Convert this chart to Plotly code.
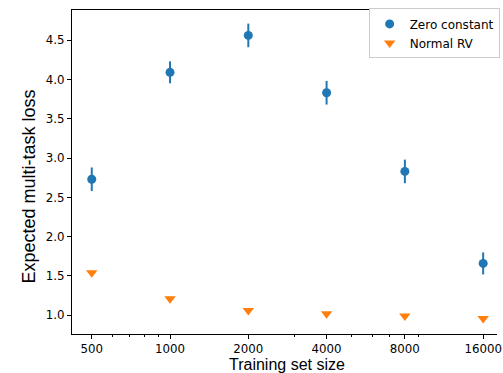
import plotly.graph_objects as go

# ---- data ----
sizes = [500, 1000, 2000, 4000, 8000, 16000]
tick_labels = ["500", "1000", "2000", "4000", "8000", "16000"]
zero_mean = [2.73, 4.09, 4.56, 3.83, 2.83, 1.66]
zero_err = [0.15, 0.14, 0.15, 0.15, 0.15, 0.14]
normal_mean = [1.54, 1.21, 1.06, 1.02, 0.99, 0.96]
y_ticks = [1.0, 1.5, 2.0, 2.5, 3.0, 3.5, 4.0, 4.5]
minor_x = [600, 700, 800, 900, 3000, 5000, 6000, 7000, 9000]

BLUE = "#1f77b4"
ORANGE = "#ff7f0e"
TICK_FONT = dict(family="DejaVu Sans", size=11.8, color="#000000")

fig = go.Figure()
fig.add_trace(go.Scatter(
    x=sizes, y=zero_mean, mode="markers", name="Zero constant",
    marker=dict(symbol="circle", size=9, color=BLUE),
    error_y=dict(type="data", array=zero_err, visible=True, color=BLUE,
                 thickness=2, width=0),
))
fig.add_trace(go.Scatter(
    x=sizes, y=normal_mean, mode="markers", name="Normal RV",
    marker=dict(symbol="triangle-down", size=10, color=ORANGE),
))

fig.update_layout(
    width=503, height=373,
    margin=dict(l=72, r=1, t=10, b=39),
    paper_bgcolor="white", plot_bgcolor="white",
    showlegend=True,
    legend=dict(
        x=0.698, y=1.005, xanchor="left", yanchor="top",
        bgcolor="white", bordercolor="#cccccc", borderwidth=1,
        font=dict(family="DejaVu Sans", size=12, color="#000000"),
        tracegroupgap=0,
    ),
    xaxis=dict(
        type="log", range=[2.623, 4.2574],
        tickmode="array", tickvals=sizes, ticktext=tick_labels,
        ticks="outside", ticklen=4, tickwidth=1, tickcolor="#000000",
        showline=True, linecolor="#000000", linewidth=1, mirror=True,
        showgrid=False, zeroline=False, tickfont=TICK_FONT,
        ticklabeloverflow="allow",
        minor=dict(ticks="outside", ticklen=2, tickwidth=1,
                   tickcolor="#000000", tickmode="array", tickvals=minor_x,
                   showgrid=False),
    ),
    yaxis=dict(
        range=[0.762, 4.883],
        tickmode="array", tickvals=y_ticks,
        ticktext=[f"{v:.1f}" for v in y_ticks],
        ticks="outside", ticklen=4, tickwidth=1, tickcolor="#000000",
        showline=True, linecolor="#000000", linewidth=1, mirror=False,
        showgrid=False, zeroline=False, tickfont=TICK_FONT,
    ),
    annotations=[
        dict(text="Training set size", xref="paper", yref="paper",
             x=0.506, y=-0.094, xanchor="center", yanchor="middle",
             showarrow=False,
             font=dict(family="Liberation Sans", size=16, color="#000000")),
        dict(text="Expected multi-task loss", xref="paper", yref="paper",
             x=-0.102, y=0.454, xanchor="center", yanchor="middle",
             textangle=-90, showarrow=False,
             font=dict(family="Liberation Sans", size=18, color="#000000")),
    ],
)

fig.write_html(
    "out.html",
    config={"displayModeBar": False},
    post_script="document.body.style.margin='0';document.body.style.overflow='hidden';",
)
